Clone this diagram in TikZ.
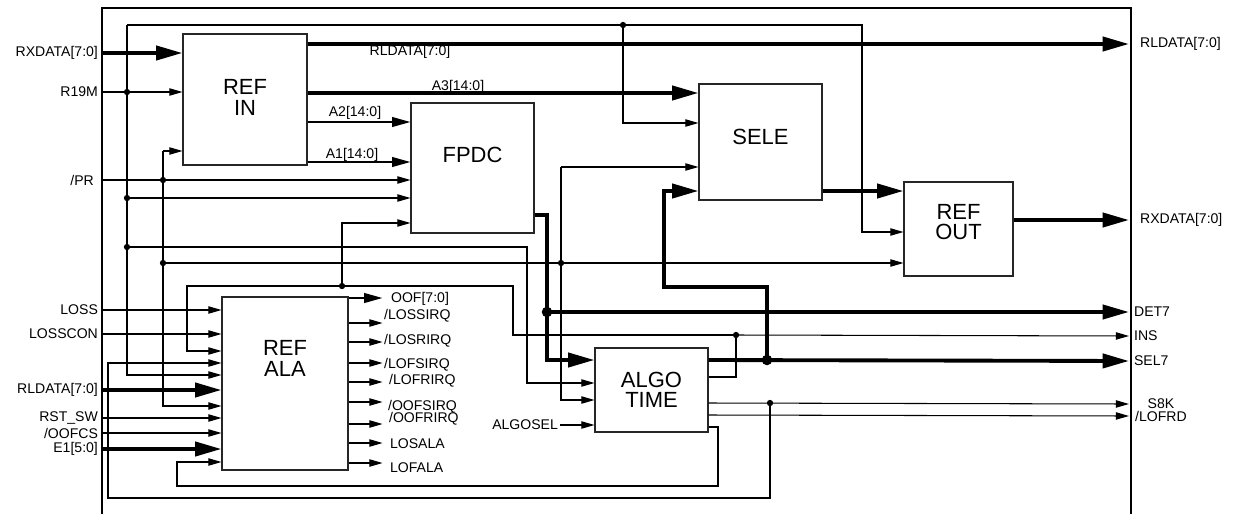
\documentclass[tikz,border=0pt]{standalone}
\usepackage{fontspec}
\setmainfont{Liberation Sans}
\usetikzlibrary{arrows.meta, positioning, calc}

\begin{document}
\begin{tikzpicture}[
    x=0.02cm, y=-0.02cm,
    blk/.style 2 args={draw=black!85, line width=0.6pt, inner sep=0pt,
                       minimum width=#1*0.02cm, minimum height=#2*0.02cm},
    ttl/.style={font=\fontsize{12.5}{11.5}\selectfont, align=center, inner sep=0pt},
    sig/.style={font=\fontsize{8}{9}\selectfont, inner sep=1pt},
    wire/.style={line width=0.6pt},
    sarr/.style={wire, -{Triangle[length=7.5pt, width=4.2pt]}},
    midarr/.style={line width=1.2pt, -{Triangle[length=10.5pt, width=5.5pt]}},
    bus/.style={line width=2.2pt},
    busarr/.style={bus, -{Triangle[length=15pt, width=8pt]}}
  ]
    \useasboundingbox (0,0) rectangle (1237,514);
    % frame
    \draw[wire] (102,514) -- (102,8) -- (1131,8) -- (1131,514);
    \coordinate (fr-l) at (102,0);
    \coordinate (fr-r) at (1129,0);

    % blocks
    \node[blk={124}{131}] (refin) at (245,99.5) {};
    \node[blk={123}{130}] (fpdc) at (472.5,168) {};
    \node[blk={123}{116}] (sele) at (760.5,142) {};
    \node[blk={109}{94}] (refout) at (958.5,229) {};
    \node[blk={126}{173}] (refala) at (285,383.5) {};
    \node[blk={113}{84}] (algo) at (651.5,390) {};

    \node[ttl] (refin-t) at ($(refin.center)+(0,-2)$) {REF\\IN};
    \node[ttl] (fpdc-t) at ($(fpdc.center)+(0,-13)$) {FPDC};
    \node[ttl] (sele-t) at ($(sele.center)+(0,-5)$) {SELE};
    \node[ttl] (refout-t) at ($(refout.center)+(0,-7)$) {REF\\OUT};
    \node[ttl] (refala-t) at ($(refala.center)+(0,-25)$) {REF\\ALA};
    \node[ttl] (algo-t) at (algo.center) {ALGO\\TIME};

    % input pins
    \node[sig, anchor=east] (l-rx) at (100,53) {RXDATA[7:0]};
    \node[sig, anchor=east] (l-r19m) at (100,92) {R19M};
    \node[sig, anchor=east] (l-pr) at (96,180) {/PR};
    \node[sig, anchor=east] (l-loss) at (100,310) {LOSS};
    \node[sig, anchor=east] (l-losscon) at (100,334) {LOSSCON};
    \node[sig, anchor=east] (l-rl) at (100,390) {RLDATA[7:0]};
    \node[sig, anchor=east] (l-rst) at (100,418) {RST\_SW};
    \node[sig, anchor=east] (l-oofcs) at (100,433) {/OOFCS};
    \node[sig, anchor=east] (l-e1) at (100,449) {E1[5:0]};
    \node[sig, anchor=east] (l-algosel) at (560,425) {ALGOSEL};

    % output pins
    \node[sig, anchor=west] (o-rl) at (1138,44) {RLDATA[7:0]};
    \node[sig, anchor=west] (o-rx) at (1138,220) {RXDATA[7:0]};
    \node[sig, anchor=west] (o-det7) at (1132,312) {DET7};
    \node[sig, anchor=west] (o-ins) at (1132,336) {INS};
    \node[sig, anchor=west] (o-sel7) at (1132,361) {SEL7};
    \node[sig] (o-s8k) at (1161,404) {S8K};
    \node[sig] (o-lofrd) at (1161,416) {/LOFRD};

    % junctions
    \coordinate (j-clk) at (127,92);
    \coordinate (j-clk2) at (127,198);
    \coordinate (j-clk3) at (127,247);
    \coordinate (j-clk4) at (623,25);
    \coordinate (j-pr) at (163,180);
    \coordinate (j-pr2) at (163,263);
    \coordinate (j-pr3) at (561,263);
    \coordinate (j-ins) at (342,286);
    \coordinate (j-ins2) at (736,335);
    \coordinate (j-det) at (547,312);
    \coordinate (j-sel) at (767,360);
    \coordinate (j-s8k) at (770,403);

    % inputs
    \draw[busarr] (l-rx.east -| fr-l) -- (l-rx.east -| refin.west);
    \draw[sarr] (l-r19m.east -| fr-l) -- (l-r19m.east -| refin.west);
    \draw[sarr] (l-pr.east -| fr-l) -- (l-pr.east -| fpdc.west);
    \draw[sarr] (l-loss.east -| fr-l) -- (l-loss.east -| refala.west);
    \draw[sarr] (l-losscon.east -| fr-l) -- (l-losscon.east -| refala.west);
    \draw[busarr] (l-rl.east -| fr-l) -- (l-rl.east -| refala.west);
    \draw[sarr] (l-rst.east -| fr-l) -- (l-rst.east -| refala.west);
    \draw[sarr] (l-oofcs.east -| fr-l) -- (l-oofcs.east -| refala.west);
    \draw[busarr] (l-e1.east -| fr-l) -- (l-e1.east -| refala.west);
    \draw[sarr] (l-algosel.east) -- (l-algosel.east -| algo.west);

    % R19M clock
    \draw[sarr] (127,25) -- (127,375) -- (refala.west |- 0,375);
    \draw[sarr] (127,25) -| (862,232) -- (refout.west |- 0,232);
    \draw[sarr] (j-clk4) -- (623,123) -- (sele.west |- 0,123);
    \draw[sarr] (j-clk2) -- (j-clk2 -| fpdc.west);
    \draw[sarr] (j-clk3) -| (527,383) -- (algo.west |- 0,383);

    % /PR reset
    \draw[sarr] (163,151) -- (refin.west |- 0,151);
    \draw[sarr] (163,151) -- (163,406) -- (refala.west |- 0,406);
    \draw[sarr] (j-pr2) -- (j-pr2 -| refout.west);
    \draw[sarr] (561,167) -- (sele.west |- 0,167);
    \draw[sarr] (561,167) -- (561,400) -- (algo.west |- 0,400);

    % INS
    \draw[wire] (algo.east |- 0,377) -| (j-ins2);
    \draw[sarr] (j-ins2) -- (fr-r |- o-ins);
    \draw[sarr] (j-ins2) -- (513,335) -- (513,286) -- (187,286) -- (187,351) -- (refala.west |- 0,351);
    \draw[sarr] (j-ins) -- (342,223) -- (fpdc.west |- 0,223);

    % REF IN outputs
    \draw[busarr] (refin.east |- 0,44) -- (fr-r |- o-rl);
    \draw[busarr] (refin.east |- 0,93) -- (sele.west |- 0,93);
    \draw[midarr] (refin.east |- 0,122) -- (fpdc.west |- 0,122);
    \draw[midarr] (refin.east |- 0,162) -- (fpdc.west |- 0,162);
    \node[sig] (t-rl) at (410,52) {RLDATA[7:0]};
    \node[sig] (t-a3) at (458,87) {A3[14:0]};
    \node[sig] (t-a2) at (355,113) {A2[14:0]};
    \node[sig] (t-a1) at (352,155) {A1[14:0]};

    % FPDC / ALGO TIME / SELE
    \draw[bus] (fpdc.east |- 0,215) -| (j-det);
    \draw[busarr] (j-det) -- (547,360) -- (algo.west |- 0,360);
    \draw[busarr] (j-det) -- (fr-r |- o-det7);
    \draw[busarr] (algo.east |- 0,360) -- (fr-r |- o-sel7);
    \draw[busarr] (j-sel) -- (767,287) -| (664,191) -- (sele.west |- 0,191);
    \draw[sarr] (algo.east |- 0,403) -- (fr-r |- o-s8k);
    \draw[sarr] (algo.east |- 0,415) -- (fr-r |- o-lofrd);
    \draw[sarr] (j-s8k) -- (770,498) -- (108,498) -- (108,363) -- (refala.west |- 0,363);
    \draw[sarr] (algo.east |- 0,427) -- (718,427) -- (718,486) -- (177,486) -- (177,462) -- (refala.west |- 0,462);
    \draw[busarr] (sele.east |- 0,191) -- (refout.west |- 0,191);
    \draw[busarr] (refout.east |- 0,220) -- (fr-r |- o-rx);

    % REF ALA outputs
    \draw[midarr] (refala.east |- 0,298) -- ++(34,0);
    \draw[sarr] (refala.east |- 0,323) -- ++(34,0);
    \draw[sarr] (refala.east |- 0,342) -- ++(34,0);
    \draw[sarr] (refala.east |- 0,363) -- ++(34,0);
    \draw[sarr] (refala.east |- 0,382) -- ++(34,0);
    \draw[sarr] (refala.east |- 0,402) -- ++(34,0);
    \draw[sarr] (refala.east |- 0,424) -- ++(34,0);
    \draw[sarr] (refala.east |- 0,443) -- ++(34,0);
    \draw[sarr] (refala.east |- 0,463) -- ++(34,0);
    \node[sig, anchor=west] (a-oof) at (389,299) {OOF[7:0]};
    \node[sig, anchor=west] (a-lossirq) at (382,316) {/LOSSIRQ};
    \node[sig, anchor=west] (a-losrirq) at (382,341) {/LOSRIRQ};
    \node[sig, anchor=west] (a-lofsirq) at (382,365) {/LOFSIRQ};
    \node[sig, anchor=west] (a-lofrirq) at (387,381) {/LOFRIRQ};
    \node[sig, anchor=west] (a-oofsirq) at (386,407) {/OOFSIRQ};
    \node[sig, anchor=west] (a-oofrirq) at (387,419) {/OOFRIRQ};
    \node[sig, anchor=west] (a-losala) at (388,444) {LOSALA};
    \node[sig, anchor=west] (a-lofala) at (388,468) {LOFALA};

    % dots
    \foreach \j in {j-clk, j-clk2, j-clk3, j-clk4, j-pr, j-pr2, j-pr3, j-ins, j-ins2, j-s8k}
      \fill (\j) circle (1.8pt);
    \fill (j-det) circle (3pt);
    \fill (j-sel) circle (3pt);
  \end{tikzpicture}
\end{document}
